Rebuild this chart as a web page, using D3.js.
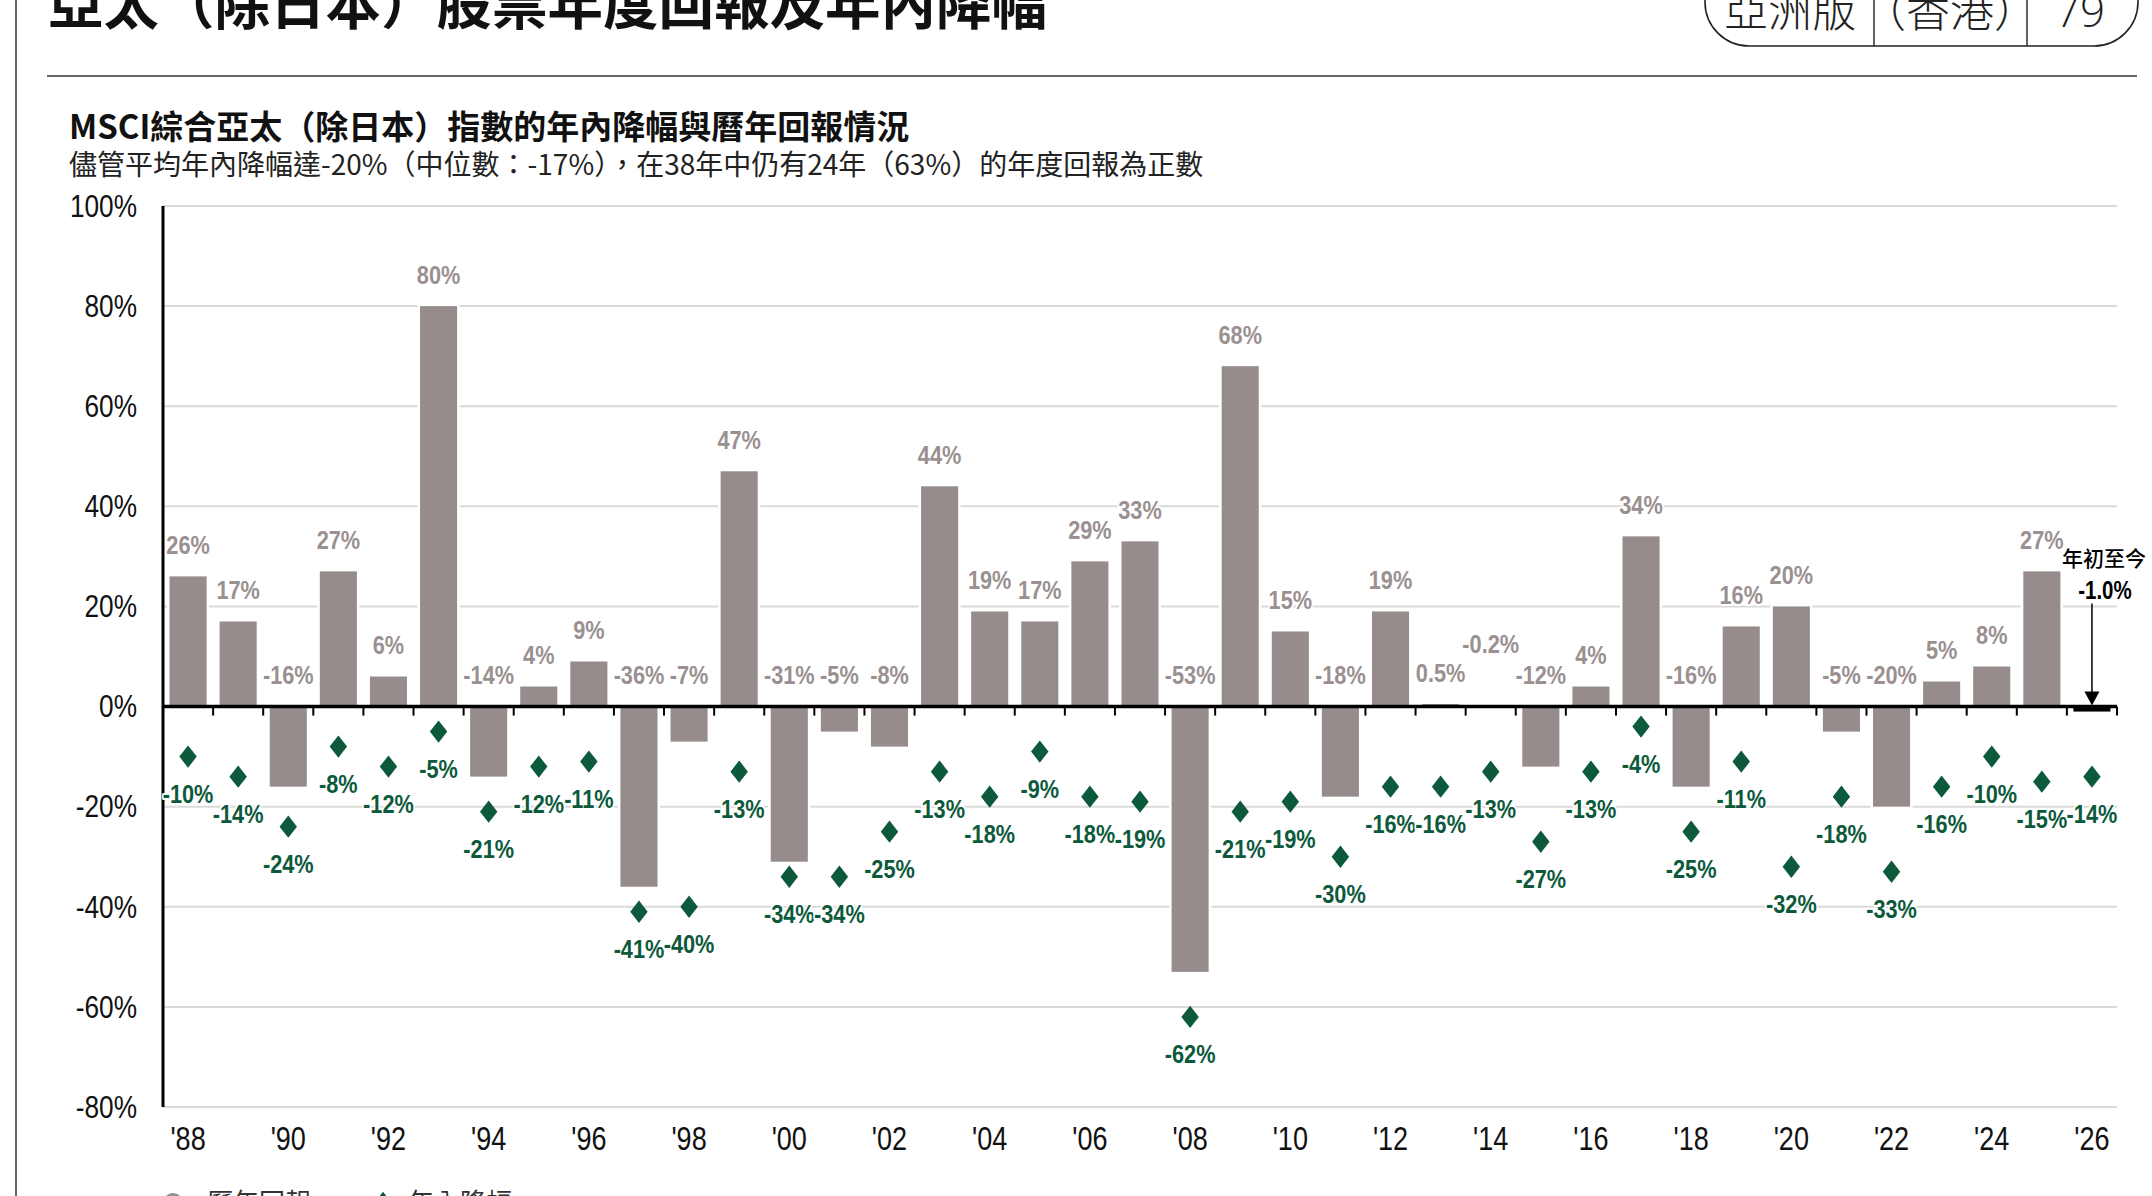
<!DOCTYPE html>
<html><head><meta charset="utf-8">
<script src="https://cdn.jsdelivr.net/npm/d3@7"></script>
<style>
html,body{margin:0;padding:0;background:#fff;}
svg{display:block;}
</style></head><body>
<svg id="c" width="2152" height="1196"></svg>
<script>
// ---------- DATA ----------
const years = [1988,1989,1990,1991,1992,1993,1994,1995,1996,1997,1998,1999,2000,2001,2002,2003,2004,2005,2006,2007,2008,2009,2010,2011,2012,2013,2014,2015,2016,2017,2018,2019,2020,2021,2022,2023,2024,2025,2026];
const returns = [26,17,-16,27,6,80,-14,4,9,-36,-7,47,-31,-5,-8,44,19,17,29,33,-53,68,15,-18,19,0.5,-0.2,-12,4,34,-16,16,20,-5,-20,5,8,27,-1.0];
const drawdowns = [-10,-14,-24,-8,-12,-5,-21,-12,-11,-41,-40,-13,-34,-34,-25,-13,-18,-9,-18,-19,-62,-21,-19,-30,-16,-16,-13,-27,-13,-4,-25,-11,-32,-18,-33,-16,-10,-15,-14];
const yTicks = [-80,-60,-40,-20,0,20,40,60,80,100];
const xTickYears = [1988,1990,1992,1994,1996,1998,2000,2002,2004,2006,2008,2010,2012,2014,2016,2018,2020,2022,2024,2026];
const ytdYear = 2026;
const ytdLabel = "年初至今";
const ytdValueText = "-1.0%";
const pageTitle = "亞太（除日本）股票年度回報及年內降幅";
const chartTitle = "MSCI綜合亞太（除日本）指數的年內降幅與曆年回報情況";
const subtitle = "儘管平均年內降幅達-20%（中位數：-17%），在38年中仍有24年（63%）的年度回報為正數";
const pillTexts = ["亞洲版","（香港）","79"];
const legendItems = ["曆年回報","年內降幅"];

// ---------- SETUP ----------
const W = 2152, H = 1196;
const svg = d3.select("#c");
svg.append("rect").attr("width", W).attr("height", H).attr("fill", "#fff");

const CJK = "'Noto Sans CJK TC','Noto Sans CJK SC',sans-serif";
const LAT = "'Liberation Sans',Arial,sans-serif";
const NX = 0.82;
const BAR = "#968c8c", BARLBL = "#9a9090", GREEN = "#0c5a3b", GRID = "#dadada";

const plot = {left: 163, right: 2117, top: 206, bottom: 1107};
const x = d3.scaleBand().domain(years).range([plot.left, plot.right]).paddingInner(0.26).paddingOuter(0.13);
const y = d3.scaleLinear().domain([-80, 100]).range([plot.bottom, plot.top]);
const bw = x.bandwidth();
const cx = d => x(d) + bw / 2;

function ntext(sel, tx, ty, s, size, weight, fill, anchor) {
  return sel.append("text")
    .attr("transform", `translate(${tx},${ty}) scale(${NX},1)`)
    .attr("text-anchor", anchor || "middle")
    .style("font-family", LAT).style("font-size", size + "px").style("font-weight", weight)
    .attr("fill", fill).text(s);
}
function halo(sel, w) {
  return sel.attr("stroke", "#fff").attr("stroke-width", w || 4).attr("stroke-linejoin", "round").attr("paint-order", "stroke");
}

// ---------- PAGE FRAME ----------
svg.append("line").attr("x1", 16).attr("x2", 16).attr("y1", 0).attr("y2", H).attr("stroke", "#333").attr("stroke-width", 1.5);
svg.append("line").attr("x1", 47).attr("x2", 2137).attr("y1", 76).attr("y2", 76).attr("stroke", "#333").attr("stroke-width", 1.5);
svg.append("text").attr("x", 48).attr("y", 24).style("font-family", CJK).style("font-size", "55.5px").style("font-weight", 700).attr("fill", "#111").text(pageTitle);

// pill
const pill = svg.append("g");
pill.append("rect").attr("x", 1705).attr("y", -44).attr("width", 433).attr("height", 90).attr("rx", 44).attr("fill", "none").attr("stroke", "#222").attr("stroke-width", 1.6);
[1874, 2027].forEach(px => pill.append("line").attr("x1", px).attr("x2", px).attr("y1", 0).attr("y2", 46).attr("stroke", "#222").attr("stroke-width", 1.4));
[1790, 1950, 2080].forEach((px, i) => pill.append("text").attr("x", px).attr("y", 27).attr("text-anchor", "middle")
  .style("font-family", i === 2 ? "'Open Sans','Noto Sans',sans-serif" : CJK).style("font-size", "44px").style("font-weight", 300).attr("fill", "#222").text(pillTexts[i]));

// titles
svg.append("text").attr("x", 69).attr("y", 139).style("font-family", CJK).style("font-size", "33px").style("font-weight", 700).attr("fill", "#111").text(chartTitle);
svg.append("text").attr("x", 69).attr("y", 175).style("font-family", CJK).style("font-size", "28px").style("font-weight", 400).attr("fill", "#222").text(subtitle);

// ---------- GRID ----------
svg.append("g").selectAll("line").data(yTicks.filter(d => d !== 0)).join("line")
  .attr("x1", plot.left).attr("x2", plot.right).attr("y1", d => y(d)).attr("y2", d => y(d))
  .attr("stroke", GRID).attr("stroke-width", 2);

// Y axis labels
const yAxisG = svg.append("g").attr("transform", `translate(${plot.left},0)`)
  .call(d3.axisLeft(y).tickValues(yTicks).tickSize(0).tickFormat(d => d + "%"));
yAxisG.select(".domain").remove();
yAxisG.selectAll("text").attr("transform", `scale(${NX},1)`).attr("x", -26 / NX)
  .style("font-family", LAT).style("font-size", "32px").attr("fill", "#111");

// X axis labels (bottom)
const xAxisG = svg.append("g").attr("transform", `translate(0,${plot.bottom})`)
  .call(d3.axisBottom(x).tickValues(xTickYears).tickSize(0).tickPadding(20).tickFormat(d => "'" + String(d).slice(2)));
xAxisG.select(".domain").remove();
xAxisG.selectAll("text").attr("transform", `scale(${NX},1)`)
  .style("font-family", LAT).style("font-size", "33px").attr("fill", "#111");
xAxisG.selectAll(".tick").attr("transform", d => `translate(${cx(d)},0)`);

// ---------- BARS ----------
const rows = years.map((yr, i) => ({yr, r: returns[i], dd: drawdowns[i]}));
svg.append("g").selectAll("rect").data(rows).join("rect")
  .attr("x", d => x(d.yr)).attr("width", bw)
  .attr("y", d => y(Math.max(0, d.r))).attr("height", d => Math.abs(y(d.r) - y(0)))
  .attr("fill", d => d.yr === ytdYear ? "#000" : BAR)
  .attr("stroke", "#fff").attr("stroke-width", 5).attr("paint-order", "stroke");

// zero line + ticks
svg.append("line").attr("x1", plot.left).attr("x2", plot.right).attr("y1", y(0)).attr("y2", y(0)).attr("stroke", "#000").attr("stroke-width", 3.5);
svg.append("g").selectAll("line").data(years).join("line")
  .attr("x1", d => x(d) + bw + x.step() * 0.13).attr("x2", d => x(d) + bw + x.step() * 0.13)
  .attr("y1", y(0)).attr("y2", y(0) + 9).attr("stroke", "#000").attr("stroke-width", 2);
// y axis line
svg.append("line").attr("x1", plot.left).attr("x2", plot.left).attr("y1", y(100)).attr("y2", y(-80)).attr("stroke", "#000").attr("stroke-width", 3);

// ---------- RETURN LABELS ----------
const fmt = v => (Number.isInteger(v) ? v : v.toFixed(1)) + "%";
const lblG = svg.append("g");
rows.filter(d => d.yr !== ytdYear).forEach(d => {
  const lift = d.yr === 2014 ? 31 : 0;
  halo(ntext(lblG, cx(d.yr), y(Math.max(0, d.r)) - 22.5 - lift, fmt(d.r), 26.5, 700, BARLBL, "middle"), 4);
});

// ---------- DRAWDOWN DIAMONDS ----------
const diamond = {draw(ctx, size) { const h = Math.sqrt(size) * 0.5, w = h * 0.78; ctx.moveTo(0, -h); ctx.lineTo(w, 0); ctx.lineTo(0, h); ctx.lineTo(-w, 0); ctx.closePath(); }};
const dSym = d3.symbol().type(diamond).size(500);
svg.append("g").selectAll("path").data(rows).join("path")
  .attr("d", dSym)
  .attr("transform", d => `translate(${cx(d.yr)},${y(d.dd)})`)
  .attr("fill", GREEN);
const ddG = svg.append("g");
rows.forEach(d => {
  halo(ntext(ddG, cx(d.yr), y(d.dd) + 46.5, fmt(d.dd), 26.5, 700, GREEN, "middle"), 4);
});

// ---------- YTD ANNOTATION ----------
const ax = cx(ytdYear);
svg.append("line").attr("x1", ax).attr("x2", ax).attr("y1", y(0) - 103).attr("y2", y(0) - 12).attr("stroke", "#000").attr("stroke-width", 1.5);
svg.append("path").attr("d", `M${ax - 7.5},${y(0) - 15} L${ax + 7.5},${y(0) - 15} L${ax},${y(0) - 1} Z`).attr("fill", "#000");
svg.append("text").attr("x", ax + 12).attr("y", y(0) - 141).attr("text-anchor", "middle")
  .style("font-family", CJK).style("font-size", "21px").style("font-weight", 500).attr("fill", "#000").text(ytdLabel);
ntext(svg, ax + 13, y(0) - 108, ytdValueText, 25, 700, "#000", "middle");

// ---------- LEGEND ----------
const lg = svg.append("g");
lg.append("circle").attr("cx", 173).attr("cy", 1203).attr("r", 10).attr("fill", BAR);
lg.append("text").attr("x", 207).attr("y", 1212).style("font-family", CJK).style("font-size", "26px").attr("fill", "#333").text(legendItems[0]);
lg.append("path").attr("d", dSym).attr("transform", "translate(383,1203)").attr("fill", GREEN);
lg.append("text").attr("x", 408).attr("y", 1212).style("font-family", CJK).style("font-size", "26px").attr("fill", "#333").text(legendItems[1]);
</script>
</body></html>
